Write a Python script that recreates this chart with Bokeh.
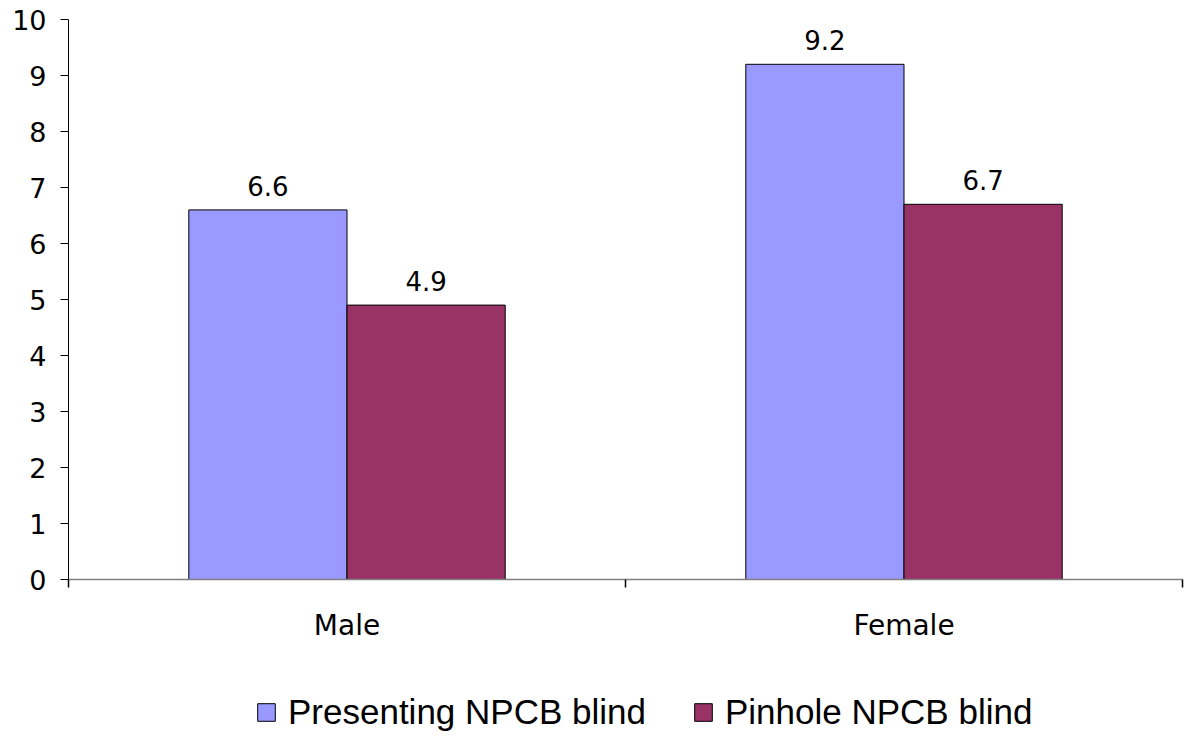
from bokeh.plotting import figure
from bokeh.layouts import column
from bokeh.models import FixedTicker, Legend, LegendItem, Range1d, ColumnDataSource
from bokeh.core.properties import value
from bokeh.embed import file_html
from bokeh.resources import INLINE

categories = ["Male", "Female"]
series_names = ["Presenting NPCB blind", "Pinhole NPCB blind"]
presenting = [6.6, 9.2]
pinhole = [4.9, 6.7]
colors = ["#9999FF", "#993366"]
y_ticks = [0, 1, 2, 3, 4, 5, 6, 7, 8, 9, 10]

bar_w = 0.284
centers = [i + 0.5 for i in range(len(categories))]

p = figure(width=1186, height=680, output_backend="svg", toolbar_location=None,
           x_range=Range1d(0, len(categories)), y_range=Range1d(0, 10),
           min_border_left=68, min_border_right=4, min_border_top=19, min_border_bottom=101)
p.outline_line_color = None
p.xgrid.visible = False
p.ygrid.visible = False
p.background_fill_color = "white"
p.border_fill_color = "white"

sources = []
for k, (vals, off) in enumerate([(presenting, -bar_w / 2), (pinhole, bar_w / 2)]):
    xs = [c + off for c in centers]
    src = ColumnDataSource(dict(x=xs, top=vals, lab=[f"{v:.1f}" for v in vals]))
    sources.append(src)
    p.vbar(x="x", top="top", width=bar_w, source=src, fill_color=colors[k],
           line_color="black", line_width=1)
    p.text(x="x", y="top", text="lab", source=src, text_align="center",
           text_baseline="bottom", y_offset=-14, text_font=value("DejaVu Sans"),
           text_font_size="26px", text_color="black")

# y axis
ya = p.yaxis[0]
ya.ticker = FixedTicker(ticks=y_ticks)
ya.axis_line_color = "black"
ya.major_tick_out = 8
ya.major_tick_in = 0
ya.minor_tick_out = 0
ya.minor_tick_in = 0
ya.major_tick_line_color = "black"
ya.major_label_text_font = "DejaVu Sans"
ya.major_label_text_font_size = "27px"
ya.major_label_text_color = "black"
ya.major_label_standoff = 14

# x axis
xa = p.xaxis[0]
xa.ticker = FixedTicker(ticks=centers, minor_ticks=list(range(len(categories) + 1)))
xa.major_label_overrides = {c: name for c, name in zip(centers, categories)}
xa.axis_line_color = "#808080"
xa.axis_line_width = 1.5
xa.major_tick_out = 0
xa.major_tick_in = 0
xa.minor_tick_out = 8
xa.minor_tick_in = 0
xa.minor_tick_line_color = "black"
xa.minor_tick_line_width = 1.5
xa.major_label_text_font = "DejaVu Sans"
xa.major_label_text_font_size = "28px"
xa.major_label_text_color = "black"
xa.major_label_standoff = 21

# legend strip (its view range lies away from the bars, so only the legend shows)
lg = figure(width=1186, height=56, output_backend="svg", toolbar_location=None,
            x_range=Range1d(3, 4), y_range=Range1d(20, 21),
            min_border_left=0, min_border_right=0, min_border_top=0, min_border_bottom=0,
            x_axis_location=None, y_axis_location=None)
lg.outline_line_color = None
lg.xgrid.visible = False
lg.ygrid.visible = False
lg.background_fill_color = "white"
lg.border_fill_color = "white"
swatches = []
for k in range(len(series_names)):
    swatches.append(lg.vbar(x="x", top="top", width=bar_w, source=sources[k],
                            fill_color=colors[k], line_color="black", line_width=1))

legend = Legend(items=[LegendItem(label=series_names[i], renderers=[swatches[i]]) for i in range(2)],
                orientation="horizontal", location=(187, 4),
                glyph_width=22, glyph_height=22, label_text_font="Liberation Sans",
                label_text_font_size="35px", label_text_color="black",
                spacing=46, label_standoff=11, padding=0, margin=0,
                border_line_color=None, background_fill_alpha=0)
lg.add_layout(legend, "center")

layout = column(p, lg, spacing=0)
open("out.html", "w").write(file_html(layout, INLINE))
